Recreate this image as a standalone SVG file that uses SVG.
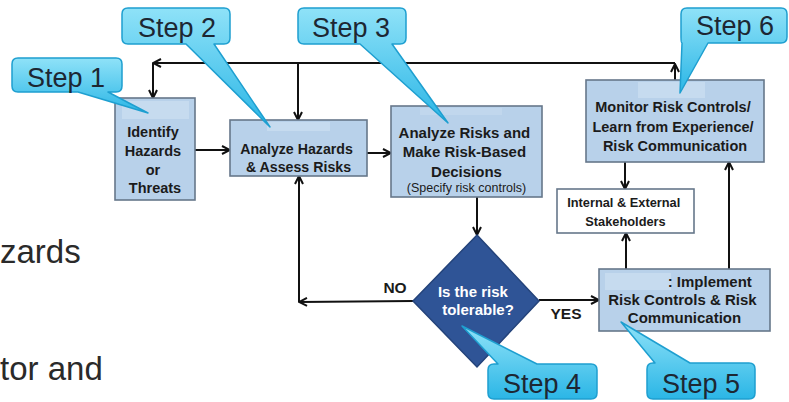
<svg xmlns="http://www.w3.org/2000/svg" width="789" height="402" viewBox="0 0 789 402">
  <defs>
    <linearGradient id="calloutFill" x1="0" y1="0" x2="0" y2="1">
      <stop offset="0" stop-color="#8fe2f8"/>
      <stop offset="1" stop-color="#2bb6e6"/>
    </linearGradient>
    <marker id="arrow" viewBox="0 0 10 10" refX="9" refY="5" markerWidth="10" markerHeight="10" markerUnits="userSpaceOnUse" orient="auto">
      <polyline points="1,1 9,5 1,9" fill="none" stroke="#111" stroke-width="2" stroke-linejoin="miter"/>
    </marker>
    <style>
      .box { fill: #b8d1ea; stroke: #66778a; stroke-width: 1.6; }
      .plain { fill: #ffffff; stroke: #66778a; stroke-width: 1.6; }
      .patch { fill: #c6dbef; }
      .lbl { font-family: "Liberation Sans", Arial, sans-serif; font-weight: bold; fill: #1b1b1b; text-anchor: middle; }
      .small { font-family: "Liberation Sans", Arial, sans-serif; font-weight: normal; fill: #1b1b1b; text-anchor: middle; font-size: 12.5px; }
      .wlbl { font-family: "Liberation Sans", Arial, sans-serif; font-weight: bold; fill: #ffffff; text-anchor: middle; font-size: 15px; }
      .callout { fill: url(#calloutFill); stroke: #1e9fd0; stroke-width: 1.5; stroke-linejoin: round; }
      .step { font-family: "Liberation Sans", Arial, sans-serif; font-size: 27px; fill: #1d2733; text-anchor: middle; }
      .bg { font-family: "Liberation Sans", Arial, sans-serif; font-size: 33px; fill: #2a2a2a; }
      .conn { fill: none; stroke: #111; stroke-width: 2; }
    </style>
  </defs>

  <!-- slide text behind the chart -->
  <text class="bg" x="0" y="263">zards</text>
  <text class="bg" x="0" y="380">tor and</text>

  <!-- connectors -->
  <g id="connectors">
    <line class="conn" x1="675" y1="80" x2="675" y2="64" marker-end="url(#arrow)"/>
    <line class="conn" x1="675" y1="63" x2="153" y2="63" marker-end="url(#arrow)"/>
    <line class="conn" x1="153" y1="63" x2="153" y2="98" marker-end="url(#arrow)"/>
    <line class="conn" x1="298" y1="63" x2="298" y2="120" marker-end="url(#arrow)"/>
    <line class="conn" x1="195" y1="150" x2="230" y2="150" marker-end="url(#arrow)"/>
    <line class="conn" x1="367" y1="153" x2="391" y2="153" marker-end="url(#arrow)"/>
    <line class="conn" x1="477" y1="197" x2="477" y2="235" marker-end="url(#arrow)"/>
    <line class="conn" x1="539" y1="300" x2="599" y2="300" marker-end="url(#arrow)"/>
    <line class="conn" x1="413" y1="301" x2="299" y2="302" marker-end="url(#arrow)"/>
    <line class="conn" x1="299" y1="302" x2="299" y2="176" marker-end="url(#arrow)"/>
    <line class="conn" x1="625" y1="162" x2="625" y2="189" marker-end="url(#arrow)"/>
    <line class="conn" x1="626" y1="269" x2="626" y2="233" marker-end="url(#arrow)"/>
    <line class="conn" x1="729" y1="269" x2="729" y2="162" marker-end="url(#arrow)"/>
    <text class="lbl" x="395" y="293" font-size="15.5">NO</text>
    <text class="lbl" x="566" y="319" font-size="15.5">YES</text>
  </g>

  <!-- nodes -->
  <g id="identify">
    <rect class="box" x="115" y="98" width="80" height="102"/>
    <rect class="patch" x="122" y="101" width="67" height="18"/>
    <text class="lbl" font-size="14.5">
      <tspan x="155" y="137">Identify</tspan>
      <tspan x="155" y="156">Hazards</tspan>
      <tspan x="155" y="174.5">or</tspan>
      <tspan x="155" y="193">Threats</tspan>
    </text>
  </g>

  <g id="analyze-hazards">
    <rect class="box" x="230" y="120" width="137" height="56"/>
    <rect class="patch" x="267" y="122" width="63" height="9"/>
    <text class="lbl" font-size="14.2">
      <tspan x="298.5" y="154">Analyze Hazards</tspan>
      <tspan x="298.5" y="172">&amp; Assess Risks</tspan>
    </text>
  </g>

  <g id="analyze-risks">
    <rect class="box" x="391" y="106" width="151" height="91"/>
    <rect class="patch" x="420" y="108" width="82" height="7" opacity="0.6"/>
    <text class="lbl" font-size="15">
      <tspan x="466.5" y="138">Analyze Risks and</tspan>
      <tspan x="466.5" y="157">Make Risk-Based</tspan>
      <tspan x="466.5" y="177">Decisions</tspan>
    </text>
    <text class="small" x="466.5" y="192">(Specify risk controls)</text>
  </g>

  <g id="decision">
    <polygon points="477,235 539,301 477,367 413,301" fill="#2f5496" stroke="#24437a" stroke-width="1.5"/>
    <text class="wlbl">
      <tspan x="475" y="297">Is the risk</tspan>
      <tspan x="478" y="315">tolerable?</tspan>
    </text>
  </g>

  <g id="monitor">
    <rect class="box" x="586" y="80" width="178" height="82"/>
    <rect class="patch" x="638" y="82" width="67" height="16"/>
    <text class="lbl" font-size="14.5">
      <tspan x="675" y="112">Monitor Risk Controls/</tspan>
      <tspan x="675" y="132">Learn from Experience/</tspan>
      <tspan x="675" y="151">Risk Communication</tspan>
    </text>
  </g>

  <g id="stakeholders">
    <rect class="plain" x="557" y="189" width="137" height="44"/>
    <text class="lbl" font-size="12.8">
      <tspan x="625.5" y="207">Internal &amp; External</tspan>
      <tspan x="625.5" y="226">Stakeholders</tspan>
    </text>
  </g>

  <g id="implement">
    <rect class="box" x="599" y="269" width="171" height="62"/>
    <rect class="patch" x="605" y="273" width="66" height="17"/>
    <text class="lbl" font-size="15">
      <tspan x="756" y="287" text-anchor="end">: Implement</tspan>
      <tspan x="684.5" y="305">Risk Controls &amp; Risk</tspan>
      <tspan x="684.5" y="323">Communication</tspan>
    </text>
  </g>

  <!-- step callouts -->
  <g id="step1">
    <path class="callout" d="M18,58 H116 Q122,58 122,64 V86 Q122,92 116,92 H108 L148,113 L78,92 H18 Q12,92 12,86 V64 Q12,58 18,58 Z"/>
    <text class="step" x="66" y="87">Step 1</text>
  </g>
  <g id="step2">
    <path class="callout" d="M128,8 H224 Q230,8 230,14 V38 Q230,44 224,44 H214 L270,127 L186,44 H128 Q122,44 122,38 V14 Q122,8 128,8 Z"/>
    <text class="step" x="177" y="37">Step 2</text>
  </g>
  <g id="step3">
    <path class="callout" d="M304,8 H400 Q406,8 406,14 V38 Q406,44 400,44 H392 L448,123 L360,44 H304 Q298,44 298,38 V14 Q298,8 304,8 Z"/>
    <text class="step" x="351" y="37">Step 3</text>
  </g>
  <g id="step4">
    <path class="callout" d="M494,364 H498 L462,326 L537,364 H591 Q597,364 597,370 V393 Q597,399 591,399 H494 Q488,399 488,393 V370 Q488,364 494,364 Z"/>
    <text class="step" x="542" y="393">Step 4</text>
  </g>
  <g id="step5">
    <path class="callout" d="M653,363 H655 L621,322 L690,363 H749 Q755,363 755,369 V393 Q755,399 749,399 H653 Q647,399 647,393 V369 Q647,363 653,363 Z"/>
    <text class="step" x="701" y="393">Step 5</text>
  </g>
  <g id="step6">
    <path class="callout" d="M687,8 H781 Q787,8 787,14 V37 Q787,43 781,43 H708 L680,93 L682,43 Q681,43 681,37 V14 Q681,8 687,8 Z"/>
    <text class="step" x="735" y="35">Step 6</text>
  </g>
</svg>
